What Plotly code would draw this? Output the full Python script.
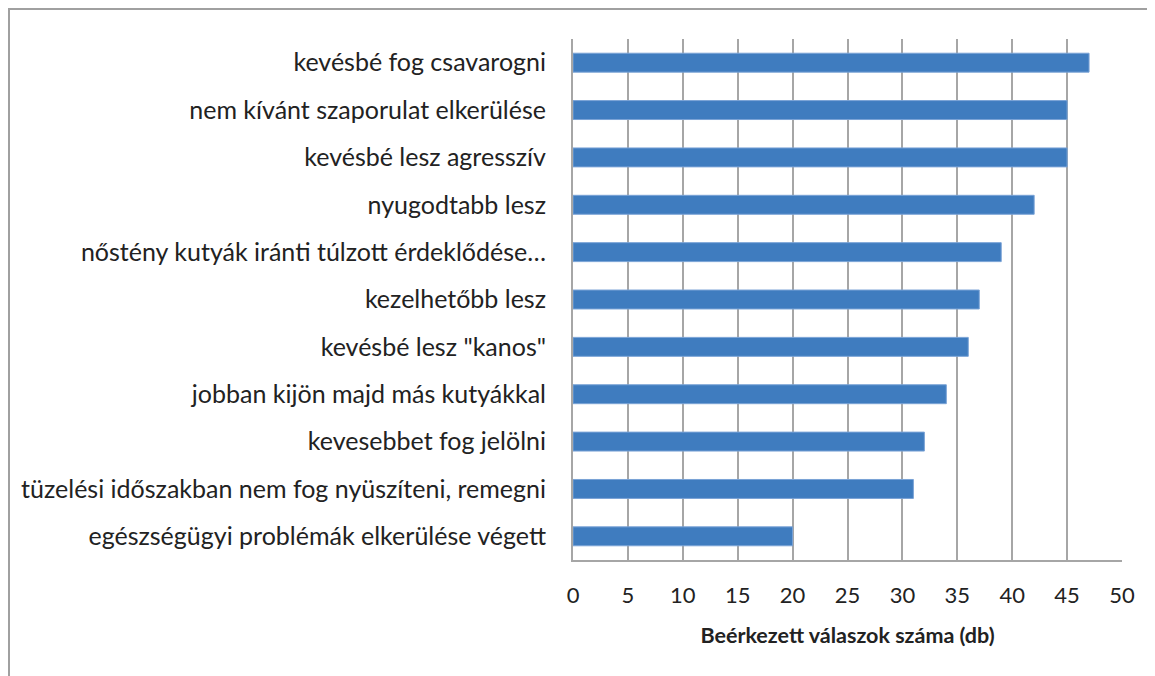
import plotly.graph_objects as go

categories = [
    "kevésbé fog csavarogni",
    "nem kívánt szaporulat elkerülése",
    "kevésbé lesz agresszív",
    "nyugodtabb lesz",
    "nőstény kutyák iránti túlzott érdeklődése…",
    "kezelhetőbb lesz",
    "kevésbé lesz \"kanos\"",
    "jobban kijön majd más kutyákkal",
    "kevesebbet fog jelölni",
    "tüzelési időszakban nem fog nyüszíteni, remegni",
    "egészségügyi problémák elkerülése végett",
]
values = [47, 45, 45, 42, 39, 37, 36, 34, 32, 31, 20]
x_ticks = [0, 5, 10, 15, 20, 25, 30, 35, 40, 45, 50]
x_title = "Beérkezett válaszok száma (db)"

# page body has an 8px margin, so the figure is sized/offset accordingly
W, H = 1147, 668
L, R, T, B = 565, 33, 31, 116
pw, ph = W - L - R, H - T - B

fig = go.Figure(go.Bar(
    y=categories[::-1],
    x=values[::-1],
    orientation="h",
    marker=dict(color="#3F7CBF", line=dict(color="#7aa3d6", width=1)),
))

font = "Lato, Carlito, Calibri, sans-serif"
fig.update_layout(
    width=W, height=H,
    margin=dict(l=L, r=R, t=T, b=B),
    paper_bgcolor="white", plot_bgcolor="white",
    bargap=0.6,
    showlegend=False,
    font=dict(family=font, size=24, color="#222222"),
    xaxis=dict(
        range=[0, 50], tickvals=x_ticks, ticktext=[str(v) for v in x_ticks],
        showgrid=True, gridcolor="#a6a6a6", gridwidth=2,
        showline=True, linecolor="#a6a6a6", linewidth=2,
        zeroline=False, ticks="", ticklabelstandoff=15,
        tickfont=dict(size=22, color="#222222"),
        title=dict(text="<b>" + x_title + "</b>", font=dict(size=21.5, color="#222222"), standoff=21),
        fixedrange=True,
    ),
    yaxis=dict(
        showgrid=False, showline=True, linecolor="#a6a6a6", linewidth=2,
        ticks="", ticklabelstandoff=20,
        tickfont=dict(size=25, color="#222222"),
        range=[-0.5, len(categories) - 0.5],
        fixedrange=True,
    ),
    shapes=[
        dict(type="line", xref="paper", yref="paper",
             x0=(0 - L) / pw, x1=(W + 10 - L) / pw, y0=(H - B - 1) / ph, y1=(H - B - 1) / ph,
             line=dict(color="#a0a0a0", width=2)),
        dict(type="line", xref="paper", yref="paper",
             x0=(1 - L) / pw, x1=(1 - L) / pw, y0=(H - B - 1) / ph, y1=(H - B - H - 10) / ph,
             line=dict(color="#a0a0a0", width=2)),
    ],
)

fig.write_html("out.html")
